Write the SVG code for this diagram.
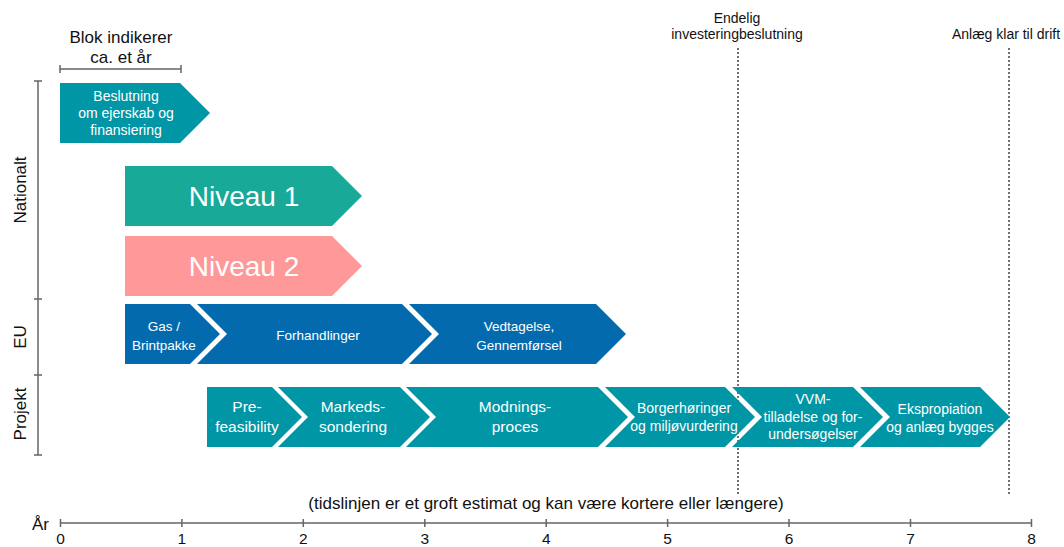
<svg xmlns="http://www.w3.org/2000/svg" width="1064" height="547" viewBox="0 0 1064 547">
<style>
text{font-family:"Liberation Sans",Arial,sans-serif;}
.w{fill:#fff;text-anchor:middle;}
.k{fill:#111;text-anchor:middle;}
.teal{fill:#0096A6;}
.grn{fill:#18A999;}
.pink{fill:#FF9898;}
.blue{fill:#046AAE;}
.ax{stroke:#666;stroke-width:1.5;fill:none;}
.dot{stroke:#444;stroke-width:1.5;stroke-dasharray:2 2;fill:none;}
</style>
<rect width="1064" height="547" fill="#fff"/>

<g id="legend">
<text class="k" x="121" y="43" font-size="17">Blok indikerer</text>
<text class="k" x="121" y="63" font-size="17">ca. et år</text>
<path class="ax" d="M60 69H181M60 65V73M181 65V73"/>
</g>

<g id="milestones">
<text class="k" x="737" y="23" font-size="14">Endelig</text>
<text class="k" x="737" y="39" font-size="14">investeringbeslutning</text>
<text class="k" x="1006" y="39" font-size="14">Anlæg klar til drift</text>
<path class="dot" d="M738 48V496M1009 48V496"/>
</g>

<g id="left-axis">
<path class="ax" d="M38 81V455M34 81H42M34 299H42M34 375H42M34 455H42"/>
<text class="k" font-size="17" transform="translate(26 190) rotate(-90)">Nationalt</text>
<text class="k" font-size="17" transform="translate(26 337) rotate(-90)">EU</text>
<text class="k" font-size="17" transform="translate(26 414) rotate(-90)">Projekt</text>
</g>

<g id="n-beslutning">
<path class="teal" d="M60 83H180L210 113L180 143H60Z"/>
<text class="w" font-size="14" x="126" y="101">Beslutning</text>
<text class="w" font-size="14" x="126" y="118">om ejerskab og</text>
<text class="w" font-size="14" x="126" y="135">finansiering</text>
</g>

<g id="n-niveau1">
<path class="grn" d="M125 166H332L362 196L332 226H125Z"/>
<text class="w" font-size="28" x="244" y="206">Niveau 1</text>
</g>

<g id="n-niveau2">
<path class="pink" d="M125 236H332L362 266L332 296H125Z"/>
<text class="w" font-size="28" x="244" y="276">Niveau 2</text>
</g>

<g id="n-gas">
<path class="blue" d="M125 304H190L220 334L190 364H125Z"/>
<text class="w" font-size="13.5" x="164" y="331">Gas /</text>
<text class="w" font-size="13.5" x="164" y="350">Brintpakke</text>
</g>
<g id="n-forhandlinger">
<path class="blue" d="M197 304H402L432 334L402 364H197L227 334Z"/>
<text class="w" font-size="13.5" x="318" y="340">Forhandlinger</text>
</g>
<g id="n-vedtagelse">
<path class="blue" d="M409 304H596L626 334L596 364H409L439 334Z"/>
<text class="w" font-size="13.5" x="519" y="331">Vedtagelse,</text>
<text class="w" font-size="13.5" x="519" y="350">Gennemførsel</text>
</g>

<g id="n-prefeasibility">
<path class="teal" d="M207 387H272L302 417L272 447H207Z"/>
<text class="w" font-size="15.5" x="247" y="412">Pre-</text>
<text class="w" font-size="15.5" x="247" y="432">feasibility</text>
</g>
<g id="n-markeds">
<path class="teal" d="M278 387H400L430 417L400 447H278L308 417Z"/>
<text class="w" font-size="15.5" x="353" y="412">Markeds-</text>
<text class="w" font-size="15.5" x="353" y="432">sondering</text>
</g>
<g id="n-modnings">
<path class="teal" d="M406 387H598L628 417L598 447H406L436 417Z"/>
<text class="w" font-size="15.5" x="515" y="412">Modnings-</text>
<text class="w" font-size="15.5" x="515" y="432">proces</text>
</g>
<g id="n-borger">
<path class="teal" d="M605 387H725L755 417L725 447H605L635 417Z"/>
<text class="w" font-size="14" x="684" y="413">Borgerhøringer</text>
<text class="w" font-size="14" x="684" y="431">og miljøvurdering</text>
</g>
<g id="n-vvm">
<path class="teal" d="M732 387H853L883 417L853 447H732L762 417Z"/>
<text class="w" font-size="14" x="813" y="404">VVM-</text>
<text class="w" font-size="14" x="813" y="422">tilladelse og for-</text>
<text class="w" font-size="14" x="813" y="439">undersøgelser</text>
</g>
<g id="n-ekspropiation">
<path class="teal" d="M860 387H980L1010 417L980 447H860L890 417Z"/>
<text class="w" font-size="14" x="940" y="414">Ekspropiation</text>
<text class="w" font-size="14" x="940" y="432">og anlæg bygges</text>
</g>

<g id="connectors"></g>

<g id="time-axis">
<text class="k" x="546" y="509" font-size="17">(tidslinjen er et groft estimat og kan være kortere eller længere)</text>
<path class="ax" d="M60.5 523H1032M60.5 519V527M181.9 519V527M303.3 519V527M424.8 519V527M546.2 519V527M667.6 519V527M789 519V527M910.5 519V527M1031.5 519V527"/>
<text x="49" y="530" font-size="17" fill="#111" text-anchor="end">År</text>
<g font-size="15.5">
<text class="k" x="60.5" y="544">0</text>
<text class="k" x="181.9" y="544">1</text>
<text class="k" x="303.3" y="544">2</text>
<text class="k" x="424.8" y="544">3</text>
<text class="k" x="546.2" y="544">4</text>
<text class="k" x="667.6" y="544">5</text>
<text class="k" x="789" y="544">6</text>
<text class="k" x="910.5" y="544">7</text>
<text class="k" x="1031.5" y="544">8</text>
</g>
</g>
</svg>
